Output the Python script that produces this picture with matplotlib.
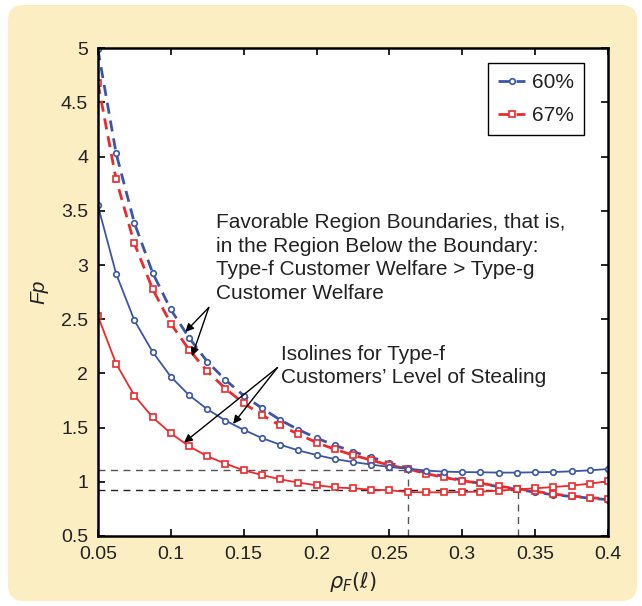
import matplotlib
matplotlib.use("Agg")
import matplotlib.pyplot as plt
from matplotlib.patches import FancyBboxPatch
import numpy as np

rho = [0.05 + 0.0125 * i for i in range(29)]

iso_60 = [3.55, 2.92, 2.49, 2.20, 1.97, 1.80, 1.67, 1.565, 1.48, 1.404, 1.343, 1.29,
          1.247, 1.21, 1.183, 1.159, 1.137, 1.122, 1.104, 1.094, 1.09, 1.088, 1.085,
          1.085, 1.088, 1.09, 1.097, 1.106, 1.118]
iso_67 = [2.53, 2.09, 1.796, 1.596, 1.448, 1.328, 1.236, 1.168, 1.106, 1.063, 1.023,
          0.993, 0.968, 0.949, 0.94, 0.928, 0.922, 0.906, 0.903, 0.903, 0.906, 0.909,
          0.918, 0.93, 0.94, 0.952, 0.965, 0.983, 1.005]
bnd_60 = [4.99, 4.03, 3.39, 2.93, 2.59, 2.33, 2.11, 1.94, 1.796, 1.68, 1.571, 1.482,
          1.404, 1.337, 1.279, 1.226, 1.174, 1.128, 1.085, 1.05, 1.015, 0.985, 0.955,
          0.93, 0.905, 0.88, 0.865, 0.85, 0.835]
bnd_67 = [4.68, 3.79, 3.20, 2.78, 2.46, 2.22, 2.02, 1.86, 1.725, 1.617, 1.52, 1.44,
          1.362, 1.30, 1.247, 1.20, 1.153, 1.12, 1.076, 1.04, 1.01, 0.986, 0.96,
          0.937, 0.912, 0.887, 0.869, 0.854, 0.841]

ref_y = [1.11, 0.922]
ref_x = [0.263, 0.338]

legend_labels = ["60%", "67%"]
xticks = [0.05, 0.1, 0.15, 0.2, 0.25, 0.3, 0.35, 0.4]
xticklabels = ["0.05", "0.1", "0.15", "0.2", "0.25", "0.3", "0.35", "0.4"]
yticks = [0.5, 1, 1.5, 2, 2.5, 3, 3.5, 4, 4.5, 5]
yticklabels = ["0.5", "1", "1.5", "2", "2.5", "3", "3.5", "4", "4.5", "5"]

BLUE = "#3A56A8"
RED = "#EC2A2C"
BG = "#FCEEC3"
TXT = "#222222"

plt.rcParams['font.family'] = ['Liberation Sans', 'DejaVu Sans']

fig = plt.figure(figsize=(6.42, 6.06), dpi=100)
bg = FancyBboxPatch((8/642, 5/606), 629/642, 596/606,
                    boxstyle="round,pad=0,rounding_size=0.025",
                    transform=fig.transFigure, facecolor=BG, edgecolor='none', zorder=-10)
fig.patches.append(bg)

ax = fig.add_axes([97.9/642, (606-536)/606, (608-97.9)/642, (536-48.3)/606])
ax.set_facecolor('white')

# reference dashed lines
dash = (0, (5, 4))
ax.plot([0.05, ref_x[0]], [ref_y[0], ref_y[0]], color='#555555', lw=1, ls=dash, zorder=1)
ax.plot([0.05, ref_x[1]], [ref_y[1], ref_y[1]], color='#222222', lw=1, ls=dash, zorder=1)
ax.plot([ref_x[0], ref_x[0]], [0.5, ref_y[0]], color='#555555', lw=1, ls=dash, zorder=1)
ax.plot([ref_x[1], ref_x[1]], [0.5, ref_y[1]], color='#555555', lw=1, ls=dash, zorder=1)

mk = dict(markersize=4.0, markeredgewidth=1.2, markerfacecolor='white')
l1, = ax.plot(rho, bnd_60, color=BLUE, ls=(0, (4, 2.5)), lw=2, marker='o', markeredgecolor=BLUE, zorder=3, **mk)
l2, = ax.plot(rho, bnd_67, color=RED, ls=(0, (4, 2.5)), lw=2, marker='s', markeredgecolor=RED, zorder=3, **mk)
ax.plot(rho, iso_60, color=BLUE, lw=1.3, marker='o', markeredgecolor=BLUE, zorder=3, **mk)
ax.plot(rho, iso_67, color=RED, lw=1.3, marker='s', markeredgecolor=RED, zorder=3, **mk)

ax.set_xlim(0.05, 0.4)
ax.set_ylim(0.5, 5)
ax.set_xticks(xticks)
ax.set_xticklabels(xticklabels)
ax.set_yticks(yticks)
ax.set_yticklabels(yticklabels)
ax.tick_params(direction='in', top=True, right=True, bottom=True, left=True,
               labelsize=14, length=5, width=1.2, color='black', labelcolor=TXT)
ax.tick_params(axis='y', pad=7)
ax.tick_params(axis='x', pad=7)
for s in ax.spines.values():
    s.set_visible(True)
    s.set_color('black')
    s.set_linewidth(1.8)
    s.set_zorder(5)

ax.set_xlabel(r'$\rho_F(\ell)$', fontsize=15, color=TXT, labelpad=5)
ax.set_ylabel('Fp', fontsize=15, style='italic', color=TXT, labelpad=9)

leg = ax.legend([l1, l2], legend_labels, loc='upper right', bbox_to_anchor=(0.953, 0.97),
                borderaxespad=0, fontsize=15, handlelength=1.3, handletextpad=0.3,
                fancybox=False, edgecolor='black', framealpha=1, labelspacing=0.65,
                borderpad=0.5)
leg.get_frame().set_linewidth(1)
leg.set_zorder(7)
for t in leg.get_texts():
    t.set_color(TXT)

ax.text(0.1308, 3.48, "Favorable Region Boundaries, that is,\nin the Region Below the Boundary:\n"
        "Type-f Customer Welfare > Type-g\nCustomer Welfare",
        fontsize=15, color=TXT, va='top', ha='left', linespacing=1.3)
ax.text(0.1758, 2.265, "Isolines for Type-f\nCustomers\u2019 Level of Stealing",
        fontsize=15, color=TXT, va='top', ha='left', linespacing=1.3)

ap = dict(arrowstyle='-|>', color='black', lw=1, mutation_scale=12, shrinkA=0, shrinkB=0)
ax.annotate('', xy=(0.110, 2.383), xytext=(0.1261, 2.609), arrowprops=ap)
ax.annotate('', xy=(0.1146, 2.16), xytext=(0.1261, 2.609), arrowprops=ap)
ax.annotate('', xy=(0.1091, 1.362), xytext=(0.1732, 2.054), arrowprops=ap)
ax.annotate('', xy=(0.1428, 1.535), xytext=(0.1732, 2.054), arrowprops=ap)

fig.savefig('out.png', dpi=100, facecolor='white')
